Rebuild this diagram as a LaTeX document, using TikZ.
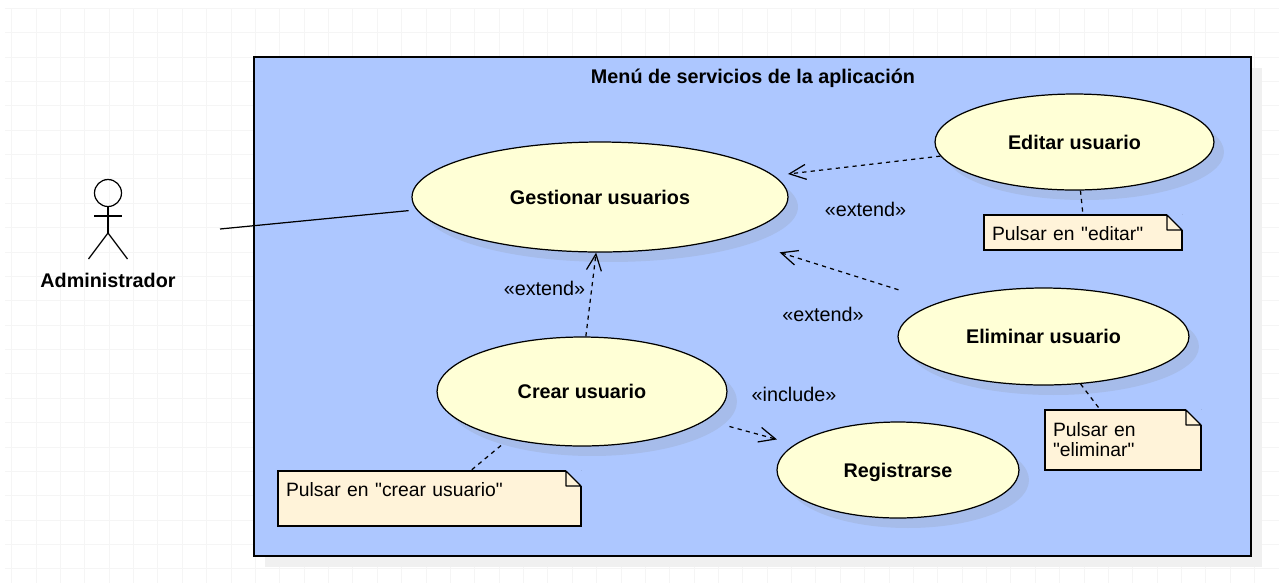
\documentclass[tikz,border=0pt]{standalone}
\usepackage{fontspec}
\setmainfont{Liberation Sans}[Ligatures=TeXOff]
\usetikzlibrary{shapes.geometric,arrows.meta,shadows,calc}
\definecolor{gridgray}{HTML}{F5F5F5}
\definecolor{framegray}{HTML}{F0F0F0}
\definecolor{frameblue}{HTML}{ADC7FF}
\definecolor{shadeblue}{HTML}{A6BCEA}
\definecolor{casefill}{HTML}{FFFFD6}
\definecolor{notefill}{HTML}{FFF3D9}
\tikzset{
	usecase/.style={ellipse,draw,line width=0.7pt,fill=casefill,inner sep=0pt,text height=8pt,text depth=0pt,font=\fontsize{11.25}{13}\selectfont\bfseries,
		drop shadow={shadow xshift=0.2cm,shadow yshift=-0.2cm,fill=shadeblue,opacity=1}},
	boldlabel/.style={inner sep=0pt,text height=8pt,text depth=0pt,font=\fontsize{11.25}{13}\selectfont\bfseries},
	notebox/.style={rectangle,draw,line width=0.7pt,fill=notefill,inner xsep=0.16cm,inner ysep=0pt,align=left,outer sep=0pt,font=\fontsize{11}{11.3}\selectfont},
	steretype/.style={inner sep=0pt,font=\fontsize{11.25}{13}\selectfont},
	dep/.style={line width=0.7pt,dash pattern=on 2.4pt off 2.4pt,-{Straight Barb[length=0.33cm,width=0.3cm]}},
	notelink/.style={line width=0.7pt,dash pattern=on 2.4pt off 2.4pt},
	actorline/.style={line width=0.7pt}
}
\newcommand{\notept}[4][]{\node[notebox,#1] at (#2) (#3) {#4};
	\filldraw[frameblue,line width=1.6pt,line join=round] ($(#3.north east)+(-15,0)$) -- (#3.north east) -- ($(#3.north east)+(0,15)$) -- cycle;
	\filldraw[fill=notefill,draw=black,line width=0.7pt,line join=round] ($(#3.north east)+(-15,0)$) -- ($(#3.north east)+(-15,15)$) -- ($(#3.north east)+(0,15)$) -- cycle;
	\draw[line width=0.7pt] ($(#3.north east)+(-22,0)$) -- ($(#3.north east)+(-15,0)$);
	\draw[line width=0.7pt] ($(#3.north east)+(0,15)$) -- ($(#3.north east)+(0,22)$);}

\begin{document}
\begin{tikzpicture}[x=0.02cm,y=-0.02cm]
	\useasboundingbox (0,0) rectangle (1279,583);
	\foreach \i in {0,...,51}
		\draw[gridgray,line width=0.5pt] ({11.7+24.37*\i},8.3) -- ({11.7+24.37*\i},583);
	\foreach \j in {0,...,23}
		\draw[gridgray,line width=0.5pt] (5,{8.3+24.37*\j}) -- (1279,{8.3+24.37*\j});

	\node[rectangle,draw,line width=0.8pt,fill=frameblue,minimum width=19.94cm,minimum height=9.98cm,outer sep=0pt,
		drop shadow={shadow xshift=0.22cm,shadow yshift=-0.22cm,fill=framegray,opacity=1}] at (752.5,306.5) (menu) {};
	\node[boldlabel] at (753,76) (menutitle) {Menú de servicios de la aplicación};

	\node[usecase,minimum width=7.52cm,minimum height=2.2cm] at (600,197) (gestionar) {Gestionar usuarios};
	\node[usecase,minimum width=5.58cm,minimum height=1.92cm] at (1074.5,142) (editar) {Editar usuario};
	\node[usecase,minimum width=5.82cm,minimum height=1.94cm] at (1043.5,336.5) (eliminar) {Eliminar usuario};
	\node[usecase,minimum width=5.8cm,minimum height=2.18cm] at (582,391.5) (crear) {Crear usuario};
	\node[usecase,minimum width=4.84cm,minimum height=1.92cm] at (898,470) (registrarse) {Registrarse};

	\notept[text width=3.64cm,minimum height=0.7cm,text height=0.51cm,text depth=0.19cm]{1083,232.5}{noteeditar}{Pulsar en "editar"}
	\notept[text width=2.8cm,minimum height=1.2cm]{1123,440}{noteeliminar}{Pulsar en\\"eliminar"}
	\notept[text width=5.74cm,minimum height=1.1cm,inner ysep=0.21cm,text height=0.3cm,text depth=0.38cm]{429.5,498.5}{notecrear}{Pulsar en "crear usuario"}

	\node[circle,draw,actorline,inner sep=0pt,minimum size=0.54cm,outer sep=0pt] at (108,193) (head) {};
	\coordinate (hip) at (108,233);
	\coordinate (footl) at (88.5,259);
	\coordinate (footr) at (127.5,259);
	\coordinate (arml) at (94,216);
	\coordinate (armr) at (122,216);
	\coordinate (actorend) at (220,229);
	\draw[actorline] (head.south) -- (hip);
	\draw[actorline] (arml) -- (armr);
	\draw[actorline] (footl) -- (hip) -- (footr);
	\node[boldlabel] at (108,280) (administrador) {Administrador};
	\draw[actorline,shorten >=0.16cm] (actorend) -- (gestionar.184.5);

	\draw[dep,shorten >=0.28cm] (editar.186) -- (gestionar.7);
	\draw[dep,shorten <=0.84cm,shorten >=1.02cm] (eliminar.162.5) -- (gestionar.-17);
	\draw[dep] (crear.86) -- (gestionar.-94);
	\draw[dep,shorten <=0.48cm,shorten >=0.37cm] (crear.-13.4) -- (registrarse.166.3);

	\draw[notelink] (editar.-83.5) -- (noteeditar.north);
	\draw[notelink] (eliminar.-52) -- (noteeliminar.127.5);
	\draw[notelink,shorten <=0.2cm] (crear.213.7) -- (notecrear.34.2);

	\node[steretype] at (865.5,209) (extendeditar) {«extend»};
	\node[steretype] at (823,314) (extendeliminar) {«extend»};
	\node[steretype] at (544.5,288) (extendcrear) {«extend»};
	\node[steretype] at (794,394.5) (includereg) {«include»};
\end{tikzpicture}
\end{document}
